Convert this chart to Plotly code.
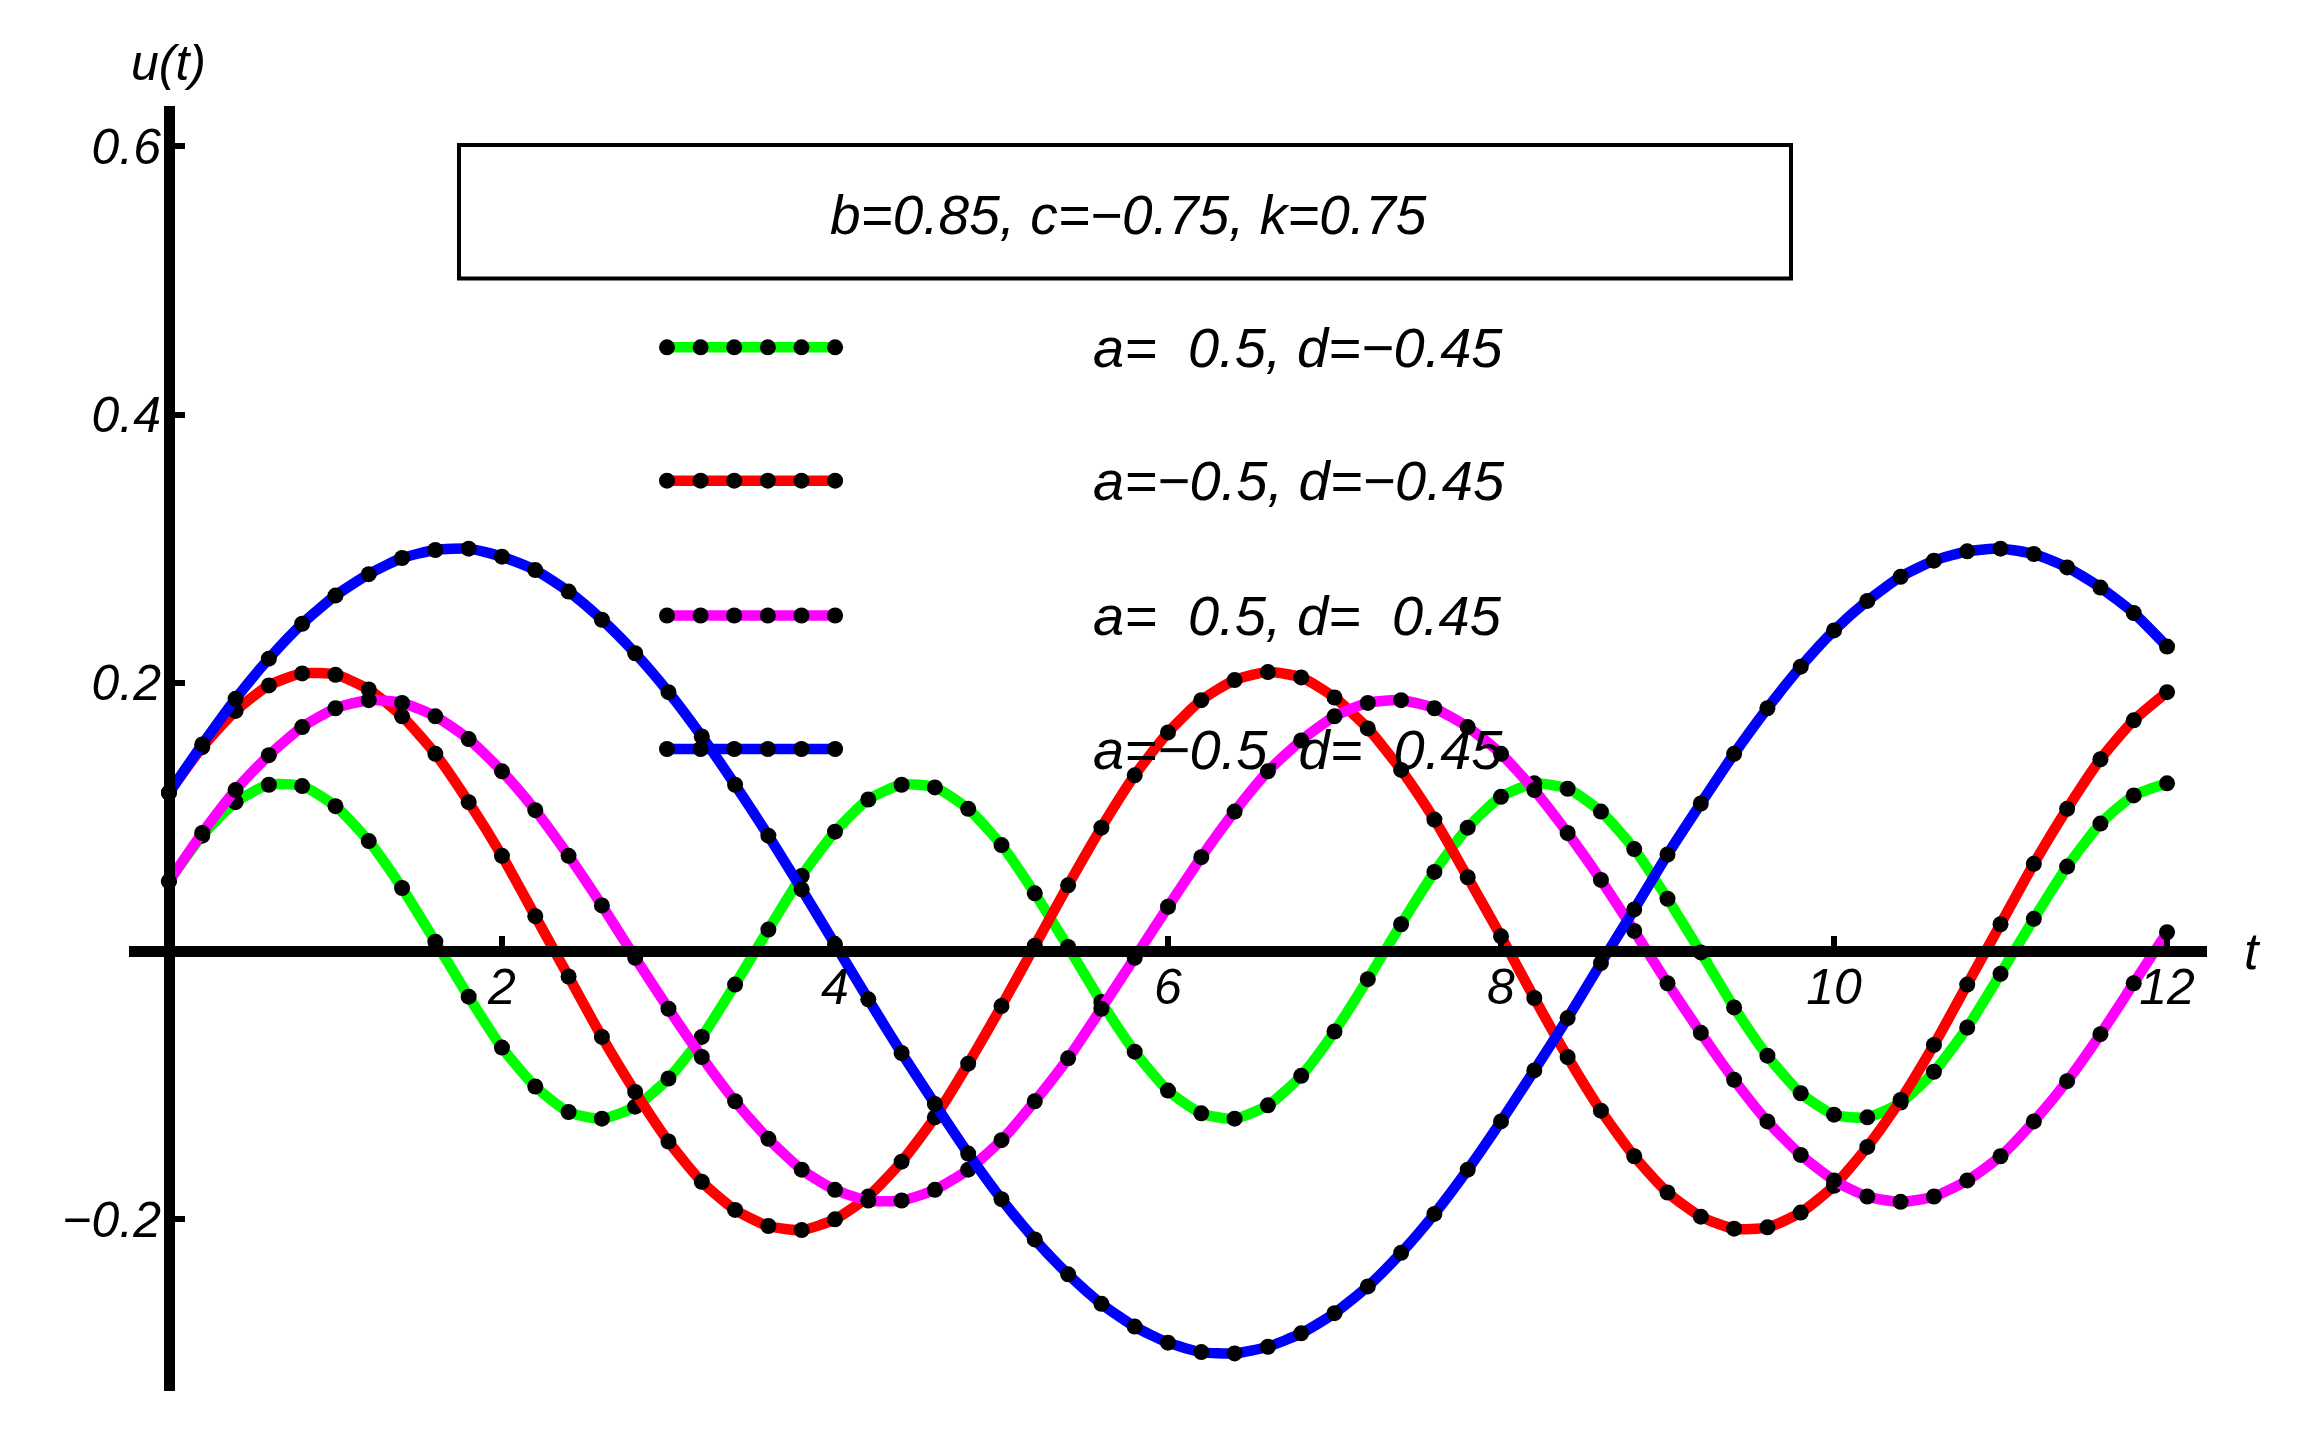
import plotly.graph_objects as go

# ---------------- data ----------------
T_VALUES = [0.0, 0.2, 0.4, 0.6, 0.8, 1.0, 1.2, 1.4, 1.6, 1.8,
            2.0, 2.2, 2.4, 2.6, 2.8, 3.0, 3.2, 3.4, 3.6, 3.8,
            4.0, 4.2, 4.4, 4.6, 4.8, 5.0, 5.2, 5.4, 5.6, 5.8,
            6.0, 6.2, 6.4, 6.6, 6.8, 7.0, 7.2, 7.4, 7.6, 7.8,
            8.0, 8.2, 8.4, 8.6, 8.8, 9.0, 9.2, 9.4, 9.6, 9.8,
            10.0, 10.2, 10.4, 10.6, 10.8, 11.0, 11.2, 11.4, 11.6, 11.8,
            12.0]

U_GREEN = [0.052, 0.086, 0.111, 0.124, 0.123, 0.108, 0.082, 0.047, 0.007, -0.034,
           -0.072, -0.101, -0.120, -0.125, -0.116, -0.095, -0.064, -0.025, 0.016, 0.056,
           0.089, 0.113, 0.124, 0.122, 0.106, 0.079, 0.043, 0.003, -0.038, -0.075,
           -0.104, -0.121, -0.125, -0.115, -0.093, -0.060, -0.021, 0.020, 0.059, 0.092,
           0.115, 0.125, 0.121, 0.104, 0.076, 0.039, -0.001, -0.042, -0.078, -0.106,
           -0.122, -0.124, -0.113, -0.090, -0.057, -0.017, 0.024, 0.063, 0.095, 0.116,
           0.125]

U_RED = [0.118, 0.152, 0.179, 0.198, 0.207, 0.206, 0.195, 0.175, 0.147, 0.111,
         0.071, 0.026, -0.019, -0.064, -0.105, -0.142, -0.172, -0.193, -0.205, -0.208,
         -0.200, -0.183, -0.157, -0.124, -0.084, -0.041, 0.004, 0.049, 0.092, 0.131,
         0.163, 0.187, 0.202, 0.208, 0.204, 0.189, 0.166, 0.135, 0.098, 0.055,
         0.011, -0.035, -0.079, -0.119, -0.153, -0.180, -0.198, -0.207, -0.206, -0.195,
         -0.175, -0.146, -0.111, -0.070, -0.025, 0.020, 0.065, 0.106, 0.143, 0.172,
         0.193]

U_MAGENTA = [0.052, 0.088, 0.120, 0.146, 0.167, 0.181, 0.187, 0.185, 0.175, 0.158,
             0.134, 0.105, 0.071, 0.034, -0.005, -0.043, -0.079, -0.112, -0.140, -0.163,
             -0.178, -0.186, -0.186, -0.178, -0.163, -0.141, -0.112, -0.080, -0.043, -0.005,
             0.033, 0.070, 0.104, 0.134, 0.157, 0.175, 0.185, 0.187, 0.181, 0.167,
             0.147, 0.120, 0.088, 0.053, 0.015, -0.024, -0.061, -0.096, -0.127, -0.152,
             -0.171, -0.183, -0.187, -0.183, -0.171, -0.153, -0.127, -0.097, -0.062, -0.024,
             0.014]

U_BLUE = [0.118, 0.154, 0.188, 0.218, 0.244, 0.265, 0.281, 0.293, 0.299, 0.300,
          0.294, 0.284, 0.268, 0.247, 0.222, 0.193, 0.160, 0.124, 0.086, 0.046,
          0.005, -0.036, -0.076, -0.114, -0.151, -0.185, -0.215, -0.241, -0.263, -0.280,
          -0.292, -0.299, -0.300, -0.295, -0.285, -0.270, -0.250, -0.225, -0.196, -0.163,
          -0.127, -0.089, -0.050, -0.009, 0.031, 0.072, 0.110, 0.147, 0.181, 0.212,
          0.239, 0.261, 0.279, 0.291, 0.298, 0.300, 0.296, 0.286, 0.271, 0.252,
          0.227]

NBSP = "\u00a0"
MINUS = "\u2212"
SERIES_LABELS = [
    "a=" + NBSP * 2 + "0.5, d=" + MINUS + "0.45",
    "a=" + MINUS + "0.5, d=" + MINUS + "0.45",
    "a=" + NBSP * 2 + "0.5, d=" + NBSP * 2 + "0.45",
    "a=" + MINUS + "0.5, d=" + NBSP * 2 + "0.45",
]
SERIES_VALUES = [U_GREEN, U_RED, U_MAGENTA, U_BLUE]
SERIES_COLORS = ["#00ff00", "#ff0000", "#ff00ff", "#0000ff"]

PARAM_TEXT = "b=0.85, c=" + MINUS + "0.75, k=0.75"

X_TICKS = [2, 4, 6, 8, 10, 12]
X_TICK_TEXT = ["2", "4", "6", "8", "10", "12"]
Y_TICKS = [-0.2, 0.2, 0.4, 0.6]
Y_TICK_TEXT = [MINUS + "0.2", "0.2", "0.4", "0.6"]

# ---------------- styling / layout constants ----------------
W, H = 2298, 1436
M_L, M_R, M_T, M_B = 129, 91, 106, 45
X_RANGE = [-0.24, 12.24]
Y_RANGE = [-0.328, 0.63]
FONT = "Liberation Sans, Arial, Helvetica, sans-serif"
LINE_W = 10.5
DOT = 16

x_axis_pos = (0 - Y_RANGE[0]) / (Y_RANGE[1] - Y_RANGE[0])
y_axis_pos = (0 - X_RANGE[0]) / (X_RANGE[1] - X_RANGE[0])

fig = go.Figure()
for vals, color, name in zip(SERIES_VALUES, SERIES_COLORS, SERIES_LABELS):
    fig.add_trace(go.Scatter(
        x=T_VALUES, y=vals, mode="lines+markers", name=name,
        line=dict(color=color, width=LINE_W, shape="spline", smoothing=0.6),
        marker=dict(color="black", size=DOT, line=dict(width=0)),
        showlegend=False, hoverinfo="skip",
    ))

shapes = []
annotations = []

# parameter box
shapes.append(dict(type="rect", xref="paper", yref="paper",
                   x0=0.1588, x1=0.7998, y0=0.8658, y1=0.9696,
                   line=dict(color="black", width=4), fillcolor="rgba(0,0,0,0)"))
annotations.append(dict(text=PARAM_TEXT, xref="paper", yref="paper", x=0.481, y=0.9149,
                        xanchor="center", yanchor="middle", showarrow=False,
                        font=dict(family=FONT, size=55, color="black", style="italic")))

# legend rows
ROW_Y = [0.8122, 0.7084, 0.6035, 0.4996]
SAMPLE_X0, SAMPLE_X1 = 0.2570, 0.3417
DOT_X0, DOT_X1, N_DOTS = 0.2589, 0.3398, 6
TEXT_X = 0.4629
for ry, color, name in zip(ROW_Y, SERIES_COLORS, SERIES_LABELS):
    shapes.append(dict(type="line", xref="paper", yref="paper",
                       x0=SAMPLE_X0, x1=SAMPLE_X1, y0=ry, y1=ry,
                       line=dict(color=color, width=LINE_W)))
    for k in range(N_DOTS):
        dx = DOT_X0 + (DOT_X1 - DOT_X0) * k / (N_DOTS - 1)
        shapes.append(dict(type="circle", xref="paper", yref="paper",
                           xsizemode="pixel", ysizemode="pixel",
                           xanchor=dx, yanchor=ry,
                           x0=-DOT / 2, x1=DOT / 2, y0=-DOT / 2, y1=DOT / 2,
                           fillcolor="black", line=dict(width=0)))
    annotations.append(dict(text=name, xref="paper", yref="paper", x=TEXT_X, y=ry,
                            xanchor="left", yanchor="middle", showarrow=False,
                            font=dict(family=FONT, size=56, color="black", style="italic")))

# axis labels
annotations.append(dict(text="u(t)", xref="paper", yref="paper", x=y_axis_pos, y=1.0335,
                        xanchor="center", yanchor="middle", showarrow=False,
                        font=dict(family=FONT, size=50, color="black", style="italic")))
annotations.append(dict(text="t", xref="paper", yref="paper", x=1.0221, y=x_axis_pos,
                        xanchor="center", yanchor="middle", showarrow=False,
                        font=dict(family=FONT, size=52, color="black", style="italic")))

tickfont = dict(family=FONT, size=50, color="black", style="italic")

fig.update_layout(
    width=W, height=H, autosize=False,
    margin=dict(l=M_L, r=M_R, t=M_T, b=M_B, pad=0),
    paper_bgcolor="white", plot_bgcolor="white",
    shapes=shapes, annotations=annotations,
    xaxis=dict(range=X_RANGE, anchor="free", position=x_axis_pos,
               showline=True, linewidth=11, linecolor="black",
               ticks="inside", ticklen=10, tickwidth=6, tickcolor="black",
               tickvals=X_TICKS, ticktext=X_TICK_TEXT, tickfont=tickfont,
               ticklabelstandoff=-13,
               showgrid=False, zeroline=False, fixedrange=True),
    yaxis=dict(range=Y_RANGE, anchor="free", position=y_axis_pos,
               showline=True, linewidth=11, linecolor="black",
               ticks="inside", ticklen=10, tickwidth=6, tickcolor="black",
               tickvals=Y_TICKS, ticktext=Y_TICK_TEXT, tickfont=tickfont,
               ticklabelstandoff=-7,
               showgrid=False, zeroline=False, fixedrange=True),
)

fig.write_html(
    "out.html",
    config={"displayModeBar": False},
    post_script="document.body.style.margin='0px';document.body.style.overflow='hidden';",
)
